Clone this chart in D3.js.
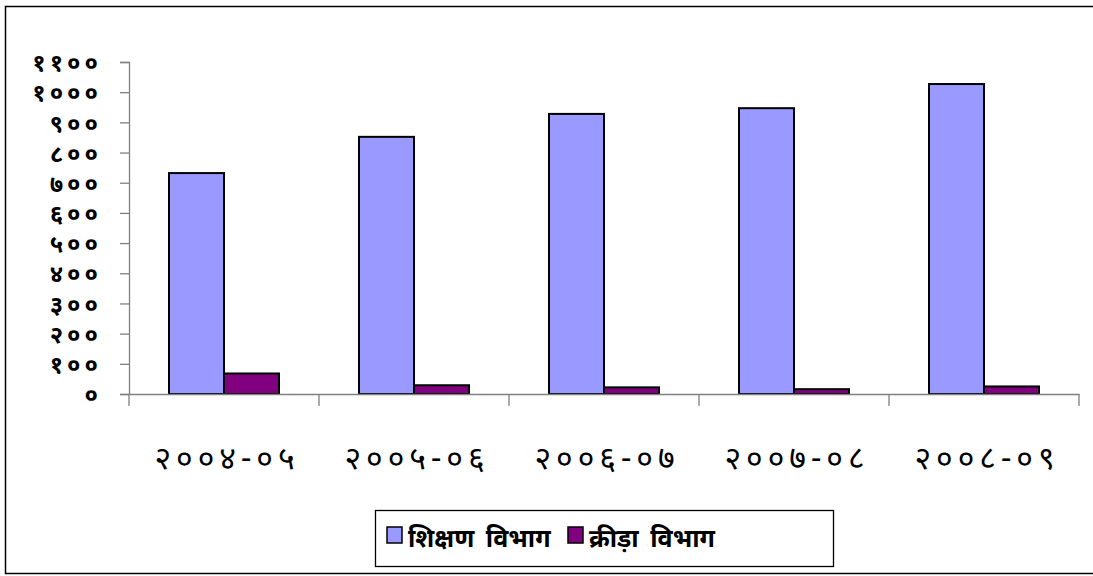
<!DOCTYPE html>
<html>
<head>
<meta charset="utf-8">
<script src="https://cdn.jsdelivr.net/npm/d3@7"></script>
<style>
  body { margin: 0; background: #fff; }
  text { font-family: "Noto Sans", "Noto Sans Devanagari", "Lohit Devanagari", sans-serif; }
</style>
</head>
<body>
<svg id="chart" width="1093" height="576"></svg>
<script>
// data
var years = ["२००४-०५", "२००५-०६", "२००६-०७", "२००७-०८", "२००८-०९"];
var shikshan = [732, 852, 928, 947, 1027];
var krida = [68, 29, 22, 16, 25];
var seriesNames = ["शिक्षण विभाग", "क्रीड़ा विभाग"];
var seriesColors = ["#9999ff", "#800080"];
var yTicks = [0, 100, 200, 300, 400, 500, 600, 700, 800, 900, 1000, 1100];

var devDigits = "०१२३४५६७८९";
function toDev(n) {
  return String(n).replace(/[0-9]/g, function(c) { return devDigits[+c]; });
}

var svg = d3.select("#chart");

// outer frame
svg.append("rect")
  .attr("x", 5.5).attr("y", 6.5)
  .attr("width", 1100).attr("height", 567)
  .attr("fill", "none").attr("stroke", "#000").attr("stroke-width", 1.5);

var plotL = 129, plotR = 1079, plotT = 62, plotB = 394;

var x = d3.scaleBand().domain(years).range([plotL, plotR]);
var x1 = d3.scaleBand().domain([0, 1]).range([0, 110]);
var y = d3.scaleLinear().domain([0, 1100]).range([plotB, plotT]);

// y axis
var yAxis = svg.append("g")
  .attr("transform", "translate(" + plotL + ",0)")
  .call(d3.axisLeft(y).tickValues(yTicks).tickSize(9).tickPadding(18).tickFormat(toDev));
yAxis.select(".domain").attr("stroke", "#808080").attr("stroke-width", 1.3);
yAxis.selectAll(".tick line").attr("stroke", "#808080").attr("stroke-width", 1.3);
yAxis.selectAll(".tick text")
  .attr("fill", "#000")
  .attr("dy", "0.36em")
  .style("font-size", "24px").style("font-weight", "bold")
  .style("letter-spacing", "4px");

// bars
var groups = svg.append("g").selectAll("g")
  .data(years)
  .enter().append("g")
  .attr("transform", function(d) { return "translate(" + (x(d) + x.bandwidth() / 2 - 55) + ",0)"; });

groups.selectAll("rect")
  .data(function(d, i) { return [shikshan[i], krida[i]]; })
  .enter().append("rect")
  .attr("x", function(d, j) { return x1(j); })
  .attr("y", function(d) { return y(d); })
  .attr("width", x1.bandwidth())
  .attr("height", function(d) { return plotB - y(d); })
  .attr("fill", function(d, j) { return seriesColors[j]; })
  .attr("stroke", "#000").attr("stroke-width", 2);

// x axis
var xAxis = svg.append("g")
  .attr("transform", "translate(0," + plotB + ")")
  .call(d3.axisBottom(x).tickSize(0).tickPadding(52));
xAxis.select(".domain").attr("stroke", "#808080").attr("stroke-width", 1.3);
xAxis.selectAll(".tick text")
  .attr("fill", "#000")
  .attr("dx", 3)
  .style("font-size", "32px")
  .style("letter-spacing", "5px");
// category boundary ticks
xAxis.selectAll(".sep")
  .data(years.concat(["end"]))
  .enter().append("line")
  .attr("x1", function(d, i) { return plotL + i * x.step(); })
  .attr("x2", function(d, i) { return plotL + i * x.step(); })
  .attr("y1", 0).attr("y2", 12)
  .attr("stroke", "#808080").attr("stroke-width", 1.3);

// legend
var lg = svg.append("g");
lg.append("rect")
  .attr("x", 375.5).attr("y", 510.5).attr("width", 458).attr("height", 56)
  .attr("fill", "#fff").attr("stroke", "#000").attr("stroke-width", 1.3);
var legendX = [387, 568];
seriesNames.forEach(function(name, i) {
  lg.append("rect")
    .attr("x", legendX[i]).attr("y", 527).attr("width", 15).attr("height", 16)
    .attr("fill", seriesColors[i]).attr("stroke", "#000").attr("stroke-width", 1.5);
  lg.append("text")
    .attr("x", legendX[i] + 21).attr("y", 547)
    .attr("fill", "#000")
    .style("font-size", "25px").style("font-weight", "bold")
    .style("word-spacing", "5px")
    .text(name);
});
</script>
</body>
</html>
